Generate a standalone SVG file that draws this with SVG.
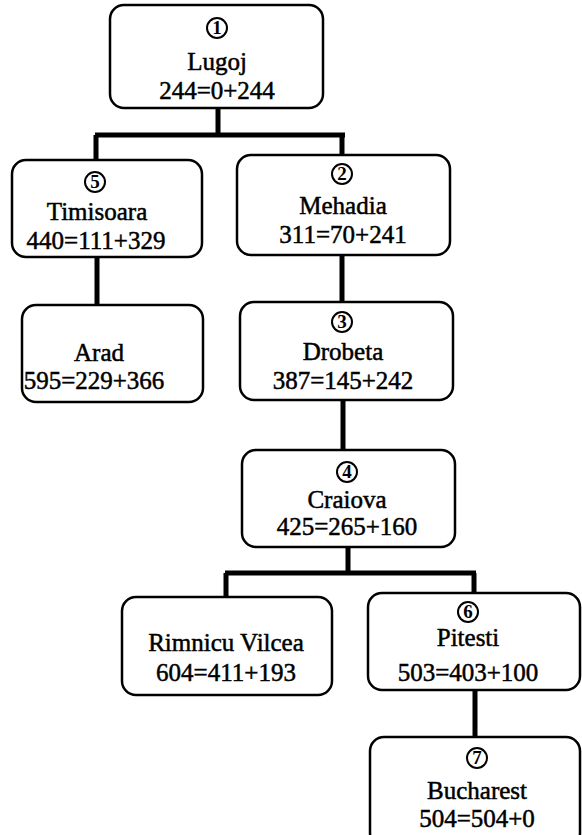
<svg xmlns="http://www.w3.org/2000/svg" width="582" height="835" viewBox="0 0 582 835">
<style>
.box{fill:#fff;stroke:#000;stroke-width:2.5}
.circ{fill:none;stroke:#000;stroke-width:2}
.t{font-family:'Liberation Serif',serif;font-size:25px;fill:#000;stroke:#000;stroke-width:0.5;text-anchor:middle}
.num{font-family:'Liberation Serif',serif;font-size:19px;font-weight:bold;fill:#000;text-anchor:middle}
.conn{fill:none;stroke:#000;stroke-width:5}
</style>
<rect width="582" height="835" fill="#fff"/>
<g id="connectors">
<path class="conn" d="M218 108 V135 M95 135 H345 M96 135 V160 M342 135 V155"/>
<path class="conn" d="M97 257 V305"/>
<path class="conn" d="M342 255 V302"/>
<path class="conn" d="M343 400 V450"/>
<path class="conn" d="M348 547 V573 M225 573 H476 M226 573 V597 M474 573 V593"/>
<path class="conn" d="M475 690 V737"/>
</g>
<g id="lugoj">
<rect class="box" x="110" y="5" width="213" height="103" rx="14"/>
<circle class="circ" cx="217" cy="28" r="10"/><text class="num" x="217" y="34">1</text>
<text class="t" x="217" y="70">Lugoj</text>
<text class="t" x="217" y="99">244=0+244</text>
</g>
<g id="timisoara">
<rect class="box" x="12" y="160" width="190" height="97" rx="14"/>
<circle class="circ" cx="95" cy="182" r="10"/><text class="num" x="95" y="188">5</text>
<text class="t" x="97" y="220">Timisoara</text>
<text class="t" x="96" y="249">440=111+329</text>
</g>
<g id="mehadia">
<rect class="box" x="237" y="155" width="213" height="100" rx="14"/>
<circle class="circ" cx="342" cy="174" r="10"/><text class="num" x="342" y="180">2</text>
<text class="t" x="343" y="214">Mehadia</text>
<text class="t" x="343" y="243">311=70+241</text>
</g>
<g id="arad">
<rect class="box" x="22" y="305" width="181" height="97" rx="14"/>
<text class="t" x="99" y="361">Arad</text>
<text class="t" x="94" y="389">595=229+366</text>
</g>
<g id="drobeta">
<rect class="box" x="240" y="302" width="213" height="98" rx="14"/>
<circle class="circ" cx="342" cy="322" r="10"/><text class="num" x="342" y="328">3</text>
<text class="t" x="343" y="360">Drobeta</text>
<text class="t" x="343" y="389">387=145+242</text>
</g>
<g id="craiova">
<rect class="box" x="242" y="450" width="213" height="97" rx="14"/>
<circle class="circ" cx="347" cy="472" r="10"/><text class="num" x="347" y="478">4</text>
<text class="t" x="347" y="508">Craiova</text>
<text class="t" x="347" y="535">425=265+160</text>
</g>
<g id="rimnicu">
<rect class="box" x="122" y="597" width="210" height="98" rx="14"/>
<text class="t" x="226" y="651">Rimnicu Vilcea</text>
<text class="t" x="226" y="681">604=411+193</text>
</g>
<g id="pitesti">
<rect class="box" x="368" y="593" width="212" height="97" rx="14"/>
<circle class="circ" cx="468" cy="612" r="10"/><text class="num" x="468" y="618">6</text>
<text class="t" x="468" y="646">Pitesti</text>
<text class="t" x="468" y="681">503=403+100</text>
</g>
<g id="bucharest">
<rect class="box" x="370" y="737" width="210" height="110" rx="14"/>
<circle class="circ" cx="477" cy="758" r="10"/><text class="num" x="477" y="764">7</text>
<text class="t" x="477" y="799">Bucharest</text>
<text class="t" x="477" y="827">504=504+0</text>
</g>
</svg>
